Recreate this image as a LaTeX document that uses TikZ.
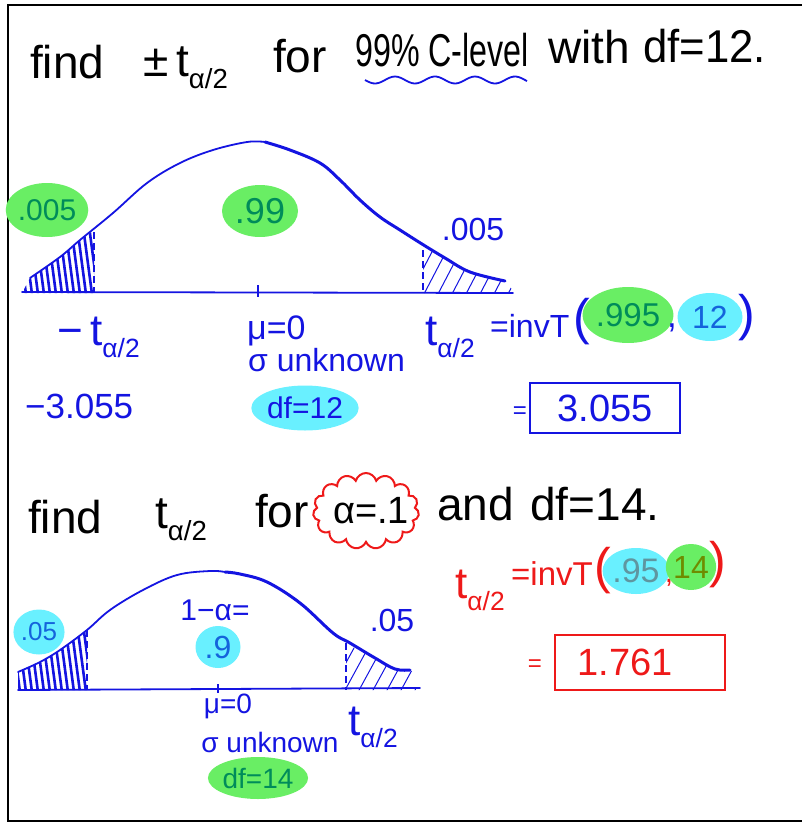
\documentclass[tikz,border=0pt]{standalone}
\usepackage{graphicx}
\usepackage{fontspec}
\setmainfont{Liberation Sans}
\usetikzlibrary{shapes.geometric,shapes.symbols}
\definecolor{pen}{RGB}{20,20,225}
\definecolor{redpen}{RGB}{238,25,25}
\definecolor{hlgreen}{RGB}{105,238,100}
\definecolor{hlcyan}{RGB}{105,240,255}
\definecolor{gtext}{RGB}{0,140,90}
\definecolor{ctext}{RGB}{20,100,220}
\definecolor{graytext}{RGB}{95,150,160}
\definecolor{olivetext}{RGB}{110,140,0}
\newcommand{\fs}[1]{\fontsize{#1}{#1}\selectfont}
\newcommand{\tsub}{t\raisebox{-0.28em}{\scalebox{0.6}{α/2}}}
\tikzset{
  hw/.style={font=\fs{46}, text=black, inner sep=0pt, anchor=base west},
  bl/.style={text=pen, inner sep=0pt},
  rd/.style={text=redpen, inner sep=0pt},
  blob/.style={ellipse, inner sep=0pt},
  gblob/.style={blob, fill=hlgreen, text=gtext},
  cblob/.style={blob, fill=hlcyan, text=ctext},
  curve/.style={pen, line width=1.8, line join=round, line cap=round},
  heavycurve/.style={pen, line width=3, line join=round, line cap=round},
  axis/.style={pen, line width=1.8, line cap=round},
  darkhatch/.style={pen, line width=2.6, line cap=round},
  lighthatch/.style={pen, line width=1, line cap=round},
  cut/.style={pen, line width=2.4, dash pattern=on 7pt off 4pt},
  ansbox/.style={line width=2, minimum width=150, minimum height=50, inner sep=0pt}
}
\begin{document}
\begin{tikzpicture}[x=1pt,y=-1pt]
\useasboundingbox (0,0) rectangle (802,823);
% frame
\draw[line width=2.5] (803,5) -- (8,5) -- (8,821) -- (803,821);

% ---------- header 1 ----------
\node[hw] (f1) at (30,78) {find};
\node[hw] (t1) at (143,76) {±\,\tsub};
\node[hw] (for1) at (273,72) {for};
\node[hw] (c1) at (355,66) {\scalebox{0.7}[1]{99\% C-level}};
\node[hw] (w1) at (548,63) {with};
\node[hw] (df1) at (643,62) {\scalebox{0.95}[1]{df=12.}};
\draw[pen, line width=1.8] plot[domain=365:527, samples=60, smooth] (\x,{80+3.5*sin((\x-365)*9)});

% ---------- curve 1 ----------
\begin{scope}
\clip (22,293) -- (30,278) -- (60,257) -- (80,240) -- (94,230) -- (94,293) -- cycle;
\foreach \x in {22,28,...,100} \draw[darkhatch] (\x+4,294) -- (\x-5,226);
\end{scope}
\begin{scope}
\clip (423,293) -- (423,245) -- (445,258) -- (470,272) -- (505,281) -- (515,293) -- cycle;
\foreach \x in {410,424,...,510} \draw[lighthatch] (\x,294) -- (\x+24,248);
\end{scope}
\draw[curve] plot[smooth, tension=0.6] coordinates {(30,278)(60,257)(80,240)(113,213)(147,183)(180,163)(213,150)(247,142)(265,142)};
\draw[heavycurve] plot[smooth, tension=0.6] coordinates {(265,142)(290,150)(320,163)(340,180)(360,200)(380,217)(400,230)(422,244)(445,258)(470,272)(505,281)};
\draw[axis] (22,292) -- (513,293);
\draw[cut] (94,232) -- (94,292);
\draw[cut, line width=1.8] (423,250) -- (423,290);
\draw[pen, line width=2.5] (258,285) -- (258,297);

\node[gblob, minimum width=70, minimum height=54, font=\fs{30}] (b005) at (47,210) {.005};
\node[gblob, minimum width=76, minimum height=52, font=\fs{36}] (b99) at (260,211) {.99};
\node[bl, font=\fs{32}] (r005) at (473,229) {.005};
\node[bl, font=\fs{44}, anchor=base west] (mt1) at (57,345) {−\,\tsub};
\node[bl, font=\fs{34}, anchor=base west] (mu1) at (247,339) {μ=0};
\node[bl, font=\fs{32}, anchor=base west] (sig1) at (248,371) {σ unknown};
\node[bl, font=\fs{35}, anchor=base west] (m3) at (25,418) {−3.055};
\node[cblob, text=pen, minimum width=100, minimum height=45, font=\fs{30}] (dfb1) at (305,408) {df=12};

\node[bl, font=\fs{44}, anchor=base west] (ta1) at (425,345) {\tsub};
\node[bl, font=\fs{32}, anchor=base west] (inv1) at (490,337) {=invT};
\node[bl, font=\fs{50}] (lp1) at (582,322) {(};
\node[gblob, minimum width=73, minimum height=56, font=\fs{33}] (b995) at (628,315) {.995};
\node[bl, font=\fs{35}] (cm1) at (672,328) {,};
\node[cblob, minimum width=65, minimum height=48, font=\fs{32}] (b12) at (710,317) {12};
\node[bl, font=\fs{50}] (rp1) at (747,318) {)};
\node[bl, font=\fs{24}] (eq1) at (520,413) {=};
\node[ansbox, draw=pen, text=pen, font=\fs{38}] (box1) at (605,408) {3.055};

% ---------- header 2 ----------
\node[hw] (f2) at (28,533) {find};
\node[hw] (t2) at (155,528) {\tsub};
\node[hw] (for2) at (255,527) {for};
\node[cloud, cloud puffs=15, cloud ignores aspect, draw=redpen, line width=2, minimum width=106, minimum height=76, inner sep=0pt] (cl) at (366,511) {};
\node[font=\fs{38}, inner sep=0pt] (a2) at (371,511) {α=.1};
\node[hw] (and2) at (437,520) {and};
\node[hw] (df2) at (530,520) {df=14.};

% ---------- red computation ----------
\node[rd, font=\fs{44}, anchor=base west] (ta2) at (455,598) {\tsub};
\node[rd, font=\fs{33}, anchor=base west] (inv2) at (511,585) {=invT};
\node[rd, font=\fs{50}] (lp2) at (603,571) {(};
\node[cblob, text=graytext, minimum width=62, minimum height=46, font=\fs{34}] (b95) at (636,571) {.95};
\node[rd, font=\fs{30}] (cm2) at (669,583) {,};
\node[gblob, text=olivetext, minimum width=42, minimum height=46, font=\fs{32}] (b14) at (691,567) {14};
\node[rd, font=\fs{50}] (rp2) at (718,565) {)};
\node[rd, font=\fs{24}] (eq2) at (535,666) {=};
\node[ansbox, draw=redpen, minimum width=170, minimum height=55] (box2) at (640,662) {};
\node[rd, font=\fs{38}] (v2) at (625,662) {1.761};

% ---------- curve 2 ----------
\begin{scope}
\clip (18,690) -- (18,672) -- (40,662) -- (60,650) -- (87,630) -- (87,690) -- cycle;
\foreach \x in {16,22,...,96} \draw[darkhatch] (\x+4,692) -- (\x-5,624);
\end{scope}
\begin{scope}
\clip (346,690) -- (346,641) -- (375,658) -- (395,669) -- (412,671) -- (416,690) -- cycle;
\foreach \x in {330,344,...,416} \draw[lighthatch] (\x,692) -- (\x+24,648);
\end{scope}
\draw[curve] plot[smooth, tension=0.6] coordinates {(18,672)(40,662)(60,650)(87,630)(110,610)(143,590)(177,575)(210,571)(225,572)};
\draw[heavycurve] plot[smooth, tension=0.6] coordinates {(225,572)(240,574)(267,582)(300,603)(333,633)(350,643)(375,658)(395,669)(410,670)};
\draw[axis] (18,690) -- (420,688);
\draw[cut] (87,630) -- (87,690);
\draw[cut, line width=1.8] (346,643) -- (346,690);
\draw[pen, line width=2.5] (218,684) -- (218,693);

\node[bl, font=\fs{30}] (oma) at (215,610) {1−α=};
\node[cblob, minimum width=45, minimum height=42, font=\fs{32}] (b9) at (218,647) {.9};
\node[bl, font=\fs{32}] (r05) at (392,620) {.05};
\node[cblob, minimum width=50, minimum height=45, font=\fs{26}] (b05) at (39,632) {.05};
\node[bl, font=\fs{28}] (mu2) at (228,706) {μ=0};
\node[bl, font=\fs{28}] (sig2) at (270,742) {σ unknown};
\node[gblob, minimum width=85, minimum height=42, font=\fs{28}] (df14) at (258,778) {df=14};
\node[bl, font=\fs{44}, anchor=base west] (ta3) at (348,735) {\tsub};
\end{tikzpicture}
\end{document}
